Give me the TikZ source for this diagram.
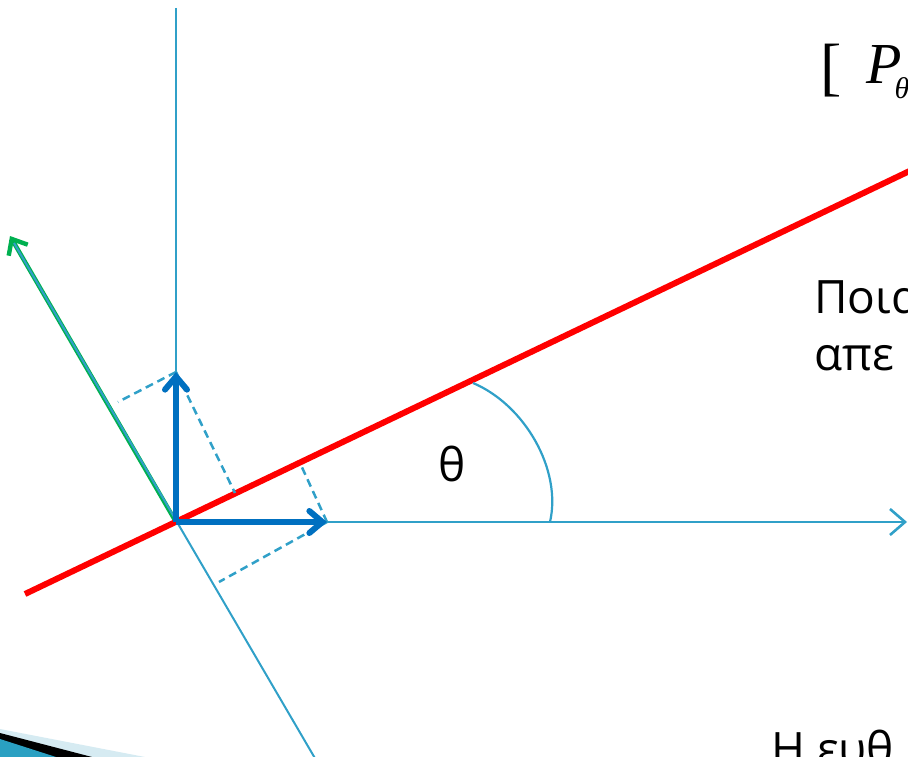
\documentclass[tikz,border=0pt]{standalone}
\usepackage{fontspec}
\usepackage{tikz}
\usetikzlibrary{arrows.meta,calc}
\newfontfamily\grfont{Open Sans}
\newfontfamily\tmfont{Liberation Serif}
\definecolor{axblu}{HTML}{30A0C8}
\definecolor{vecblu}{HTML}{0070C0}
\definecolor{grn}{HTML}{00B050}
\definecolor{decoblu}{HTML}{2AA0C2}
\definecolor{decolight}{HTML}{D6EBF2}

\begin{document}
\begin{tikzpicture}[x=1pt,y=-1pt,
  axis/.style={axblu,line width=2.6pt},
  proj/.style={axblu,line width=2.5pt,dash pattern=on 8pt off 5pt},
  unitvec/.style={vecblu,line width=6pt,-{Straight Barb[length=13pt,width=22pt,line cap=round]}},
  slide/.style={font=\grfont\fontsize{46}{57}\selectfont,inner sep=0pt}]
  \useasboundingbox (0,0) rectangle (908,757);
  \clip (0,0) rectangle (908,757);
  % the frame
  \coordinate (O) at (176,522);
  \coordinate (ytop) at (176,8);
  \coordinate (xend) at (907,522);
  \coordinate (ntip) at (10,236);
  \coordinate (nend) at (14,243);
  \coordinate (nbot) at (316,760);
  \coordinate (ex) at (327,522);
  \coordinate (ey) at (176,372);
  \draw[axis] (ytop) -- (O);
  \draw[axis,-{Straight Barb[length=15pt,width=26pt]}] (O) -- (xend);
  % normal direction
  \draw[grn,line width=4.4pt,-{Straight Barb[length=13pt,width=22pt]}] (O) -- (ntip);
  \draw[axblu,line width=2pt] (nbot) -- (nend);
  % the line
  \coordinate (la) at (25,594);
  \coordinate (lb) at (920,166);
  \draw[red,line width=6pt] (la) -- (lb);
  % projections
  \coordinate (fy1) at (118,402);
  \coordinate (fy2) at (235,493);
  \coordinate (fx1) at (300,463);
  \coordinate (fx2) at (219,582);
  \draw[proj] (ey) -- (fy1);
  \draw[proj] (ey) -- (fy2);
  \draw[proj] (ex) -- (fx1);
  \draw[proj] (ex) -- (fx2);
  \draw[unitvec] (O) -- (ex);
  \draw[unitvec] (O) -- (ey);
  % angle
  \coordinate (a1) at (473,383);
  \coordinate (a2) at (550,522);
  \draw[axblu,line width=2.2pt] (a1) .. controls (525,405) and (562,470) .. (a2);
  \node[slide] (th) at (452,464) {θ};
  % texts of the slide
  \node[slide,anchor=base west,align=left] (q) at (814,370) {Ποια\\απε};
  \node[slide,anchor=base west] (h) at (771,765) {Η ευθ};
  \node[anchor=base west,inner sep=0pt,font=\tmfont\fontsize{64}{64}\selectfont] (br) at (820,89) {[};
  \node[anchor=base west,inner sep=0pt,font=\tmfont\itshape\fontsize{58}{58}\selectfont] (P) at (866,84)
    {P\kern-7pt\raisebox{-15pt}{\fontsize{30}{30}\selectfont θ}};
  % corner bullet
  \fill[decolight] (0,729) -- (145,757) -- (0,757) -- cycle;
  \fill[black] (0,733) -- (92,757) -- (0,757) -- cycle;
  \fill[decoblu] (0,739) -- (56,757) -- (0,757) -- cycle;
\end{tikzpicture}
\end{document}
